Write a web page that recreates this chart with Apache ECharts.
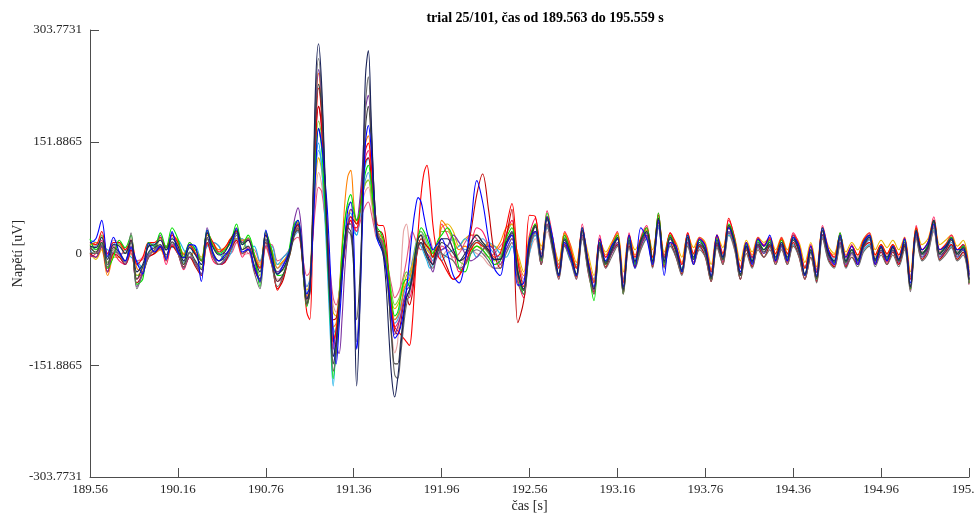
<!DOCTYPE html>
<html>
<head>
<meta charset="utf-8">
<script src="https://cdn.jsdelivr.net/npm/echarts@6/dist/echarts.min.js"></script>
<style>
  html, body { margin: 0; padding: 0; background: #fff; }
  #chart { width: 977px; height: 520px; }
</style>
</head>
<body>
<div id="chart"></div>
<script>
// Tick labels
const xTickLabels = ['189.56', '190.16', '190.76', '191.36', '191.96', '192.56', '193.16', '193.76', '194.36', '194.96', '195.'];
const yTickLabels = ['-303.7731', '-151.8865', '0', '151.8865', '303.7731'];

// Sampling grid (s): coarse, fine around the response, coarse again
const gridBreaks = [189.563, 190.923, 191.963, 195.563];
const gridSteps = [0.04, 0.02, 0.04];

// Trial traces (uV) on the sampling grid
const trLightBlue = [
  0,10,15,-5,15,0,0,5,-15,-20,0,10,8,5,12,5,-12,10,-2,-15,15,10,0,-8,5,20,15,5,-2,-18,15,5,-20,-12,
  5,18,25,30,15,-22,-45,-35,30,110,140,125,80,20,-45,-100,-110,-70,-25,10,40,45,30,25,45,80,100,110,85,45,20,15,10,-8,-40,-75,-95,-90,-75,-55,-40,-30,-10,10,25,30,20,10,0,-10,0,5,
  5,10,20,15,5,10,15,20,10,0,-5,5,20,-15,
  -40,15,30,0,38,12,-18,20,2,-18,28,-10,-38,15,-5,8,20,-38,
  15,-8,15,25,-8,38,-8,20,5,-15,18,-5,12,5,-25,15,-5,30,12,-20,10,-8,12,5,12,-5,12,-5,18,5,
  -20,5,-25,25,2,-8,18,-8,5,-8,10,18,-8,8,-5,8,-8,12,-35,25,2,8,35,2,8,15,2,8,-28
];
const trMagenta = [
  5,15,10,-2,10,-5,5,0,-10,-8,10,15,5,10,10,0,-5,15,5,-8,12,15,10,0,0,15,20,0,5,-12,10,12,-10,-5,
  5,15,20,22,10,-15,-30,-25,20,65,90,85,55,15,-25,-60,-70,-55,-20,10,35,45,40,30,40,55,65,70,55,35,20,20,15,0,-25,-45,-60,-55,-45,-30,-10,15,30,20,10,5,15,25,20,5,-5,0,
  10,5,-5,0,15,25,20,5,-5,0,10,20,25,-10,
  -35,10,25,0,35,10,-20,15,2,-20,22,-10,-35,10,-5,5,15,-35,
  12,-5,12,22,-5,35,-5,15,5,-15,15,-2,12,5,-22,12,-2,28,12,-18,8,-5,12,5,12,-2,12,-2,15,5,
  -18,5,-22,22,2,-5,15,-5,5,-5,10,15,-5,8,-2,8,-5,12,-30,22,2,8,30,2,8,12,2,8,-25
];
const trPink = [
  15,10,25,0,18,15,5,20,-10,-5,10,12,20,5,22,15,0,10,0,-10,20,0,-15,-12,0,15,-2,0,-20,-35,8,-15,-35,-30,
  -2,15,28,30,15,-25,-45,-40,20,80,110,95,60,15,-30,-70,-80,-55,-15,10,35,45,40,30,45,70,85,90,70,40,20,15,5,-20,-60,-110,-135,-120,-40,30,40,10,-20,-10,5,15,10,0,-5,-10,0,5,
  -5,5,-10,-20,-5,5,0,-5,-15,-20,-15,0,15,-30,
  -50,0,20,-15,30,5,-30,10,-8,-30,20,-20,-50,5,-15,0,12,-45,
  8,-15,5,20,-15,35,-15,10,0,-25,10,-12,5,0,-35,8,-12,25,5,-30,0,-18,5,-5,5,-12,5,-12,10,-2,
  -30,-2,-35,20,-5,-18,10,-18,-2,-15,5,12,-15,2,-12,2,-15,8,-45,20,-8,2,30,-8,0,10,-8,0,-38
];
const trGold = [
  0,-8,5,-20,-5,-5,-15,0,-30,-20,0,5,20,10,25,15,0,10,5,-5,25,15,5,8,20,30,18,20,0,-15,25,5,-15,-10,
  2,18,30,35,18,-28,-50,-40,30,100,130,115,70,15,-40,-80,-85,-55,-15,20,50,60,50,40,55,80,95,100,80,45,25,20,10,-5,-35,-65,-75,-70,-60,-45,-30,-25,-15,5,20,25,15,5,0,-5,10,15,
  35,40,30,10,20,25,25,15,10,10,5,15,20,0,
  -25,25,30,10,35,15,-10,28,12,-12,30,0,-30,18,2,15,28,-25,
  25,5,20,30,5,42,2,25,15,-5,25,8,22,15,-15,25,8,38,22,-10,18,2,22,15,22,5,22,5,25,15,
  -12,15,-18,35,10,0,25,2,15,5,20,28,5,18,8,18,5,22,-25,35,12,20,45,12,18,25,10,18,-20
];
const trLime = [
  12,0,25,-12,0,12,0,18,-30,-28,12,2,22,5,20,12,-15,12,0,-20,30,2,-10,2,15,30,5,22,-5,-30,28,0,-25,-22,
  0,25,40,42,22,-35,-65,-50,45,140,180,160,90,10,-70,-120,-100,-55,5,45,65,70,55,45,55,80,95,100,80,50,30,25,15,0,-25,-55,-70,-65,-55,-35,-25,-30,-20,5,25,30,25,15,5,-5,8,15,
  30,30,15,-10,-15,5,15,10,0,-10,-5,25,40,-20,
  -50,18,38,-8,50,15,-28,22,2,-28,32,-15,-55,15,-12,8,22,-50,
  20,-12,18,32,-10,50,-12,22,5,-22,22,-5,18,5,-32,20,-5,38,18,-28,12,-10,18,5,18,-5,18,-5,22,5,
  -28,5,-32,32,0,-10,25,-10,5,-8,14,22,-8,10,-5,10,-8,18,-45,30,0,12,42,0,10,20,0,10,-38
];
const trCyan = [
  18,15,10,5,0,15,5,-5,-10,-20,0,15,5,10,8,18,5,-5,10,-8,10,15,10,-10,0,20,20,5,10,-10,10,10,-15,-5,
  4,22,30,35,15,-30,-55,-40,35,120,150,120,60,-20,-110,-180,-120,-60,-10,20,50,55,35,25,50,85,120,130,100,50,20,15,10,-10,-45,-80,-90,-85,-70,-55,-45,-40,-25,0,15,10,0,-10,-20,-15,0,5,
  -10,0,5,10,20,10,-5,5,15,10,0,-5,10,-30,
  -55,0,25,-15,35,15,-15,10,-10,-15,20,-15,-35,10,-12,2,12,-35,
  10,-12,8,20,-15,35,-12,12,-2,-20,12,-12,8,0,-25,10,-10,25,10,-18,5,-15,8,0,8,-10,8,-10,12,0,
  -18,0,-22,22,-5,-15,12,-15,0,-12,5,12,-12,2,-10,2,-12,8,-32,22,-5,5,32,-5,2,10,-5,2,-25
];
const trCrimson = [
  -5,0,18,-25,0,-10,-15,5,-35,-25,-5,0,10,-15,12,0,-22,-5,-15,-28,15,-10,-15,-12,5,18,-5,8,-22,-35,10,-15,-38,-32,
  0,18,32,38,18,-32,-62,-48,45,160,200,170,95,15,-60,-130,-105,-65,-25,10,40,50,35,30,55,95,130,140,105,55,25,20,15,-5,-45,-85,-100,-95,-85,-65,-55,-60,-45,-15,10,15,5,0,-5,-15,0,8,
  40,25,5,-25,-15,10,35,30,10,-15,-10,25,45,-35,
  -60,25,48,-15,58,20,-35,30,10,-35,40,-25,-55,25,-20,12,30,-55,
  28,-18,22,38,-18,55,-18,28,12,-28,28,-12,22,12,-38,25,-12,45,22,-35,15,-18,22,12,22,-12,22,-12,28,12,
  -35,12,-38,38,5,-18,28,-18,12,-15,18,28,-15,12,-12,12,-15,22,-50,38,5,15,50,5,12,25,5,12,-42
];
const trOrange = [
  12,15,8,-30,0,15,0,18,-20,-25,15,0,5,-10,25,18,-5,-5,5,-10,28,12,5,5,20,20,18,20,0,-20,28,5,-20,-10,
  -4,18,36,42,20,-30,-58,-40,60,200,245,200,110,25,-40,-100,-95,-60,10,70,105,113,70,40,60,110,150,160,120,60,30,25,20,0,-35,-70,-90,-85,-75,-50,-40,-35,-20,0,20,25,15,10,5,-5,10,15,
  45,35,20,5,10,5,10,5,15,5,15,35,40,-5,
  -30,20,40,5,50,20,-15,28,8,-18,32,-8,-38,18,-2,12,28,-38,
  22,-2,20,32,-5,48,-2,25,10,-12,25,0,20,10,-22,22,0,38,20,-18,15,-2,20,10,20,0,20,0,25,10,
  -20,10,-22,35,5,-2,25,-2,10,-2,18,25,-2,12,0,12,-2,20,-32,35,5,15,45,5,12,22,5,12,-25
];
const trDarkRed = [
  0,-5,10,-25,0,-5,-15,5,-40,-28,-5,0,8,-5,10,0,-18,-5,-18,-30,15,-5,-15,-12,5,18,0,5,-20,-38,15,-12,-48,-35,
  2,22,34,38,16,-35,-70,-55,30,150,200,175,110,35,-40,-90,-88,-65,-25,10,40,50,45,40,55,90,125,130,100,55,30,30,25,5,-35,-80,-105,-110,-95,-70,-60,-70,-55,-20,10,20,15,10,5,-5,5,10,
  0,-20,-35,-30,-10,30,80,108,60,0,-20,20,60,-94,
  -65,5,38,-15,40,5,-32,12,-8,-32,25,-22,-52,8,-18,0,12,-52,
  10,-18,10,25,-18,42,-18,15,-5,-28,15,-15,10,-5,-38,12,-15,35,10,-35,5,-18,10,-5,10,-15,10,-15,15,-5,
  -35,-5,-38,25,-8,-18,15,-18,-5,-15,8,15,-15,2,-15,2,-15,10,-48,25,-8,5,38,-8,2,12,-8,2,-40
];
const trRed = [
  15,12,30,0,15,15,5,18,-15,-5,15,15,22,8,25,15,-2,12,0,-10,28,15,2,8,20,30,15,18,-5,-20,25,0,-50,-30,
  -2,18,30,34,10,-40,-80,-90,20,160,225,190,110,25,-60,-120,-105,-70,-30,5,35,45,35,35,55,100,140,150,120,70,40,38,38,20,-30,-80,-100,-105,-110,-115,-120,-125,-95,-30,30,80,110,120,90,40,10,-5,
  -10,-25,-35,-30,-15,5,15,10,5,-5,0,35,68,-10,
  -45,52,50,-5,50,15,-20,25,5,-20,35,-10,-40,20,-5,10,25,-40,
  25,-5,20,35,-5,52,-5,28,10,-15,28,0,20,10,-25,25,0,48,20,-20,15,-5,20,10,20,0,20,0,25,10,
  -20,10,-25,35,5,-5,25,-5,10,-2,18,25,-2,12,0,12,-2,20,-35,35,5,15,45,5,12,22,5,12,-30
];
const trPurple = [
  -2,-5,10,-25,2,0,-15,10,-45,-25,-2,5,25,-10,28,5,-20,-5,-12,-28,35,0,-15,-10,10,35,15,20,-5,-40,30,-10,-25,-15,
  4,28,50,62,40,-20,-60,-55,40,190,250,215,120,20,-50,-110,-125,-136,-90,-20,30,60,55,45,70,120,195,215,160,80,30,20,10,-15,-50,-90,-110,-100,-85,-65,-50,-45,-30,-10,10,15,5,-5,-15,-25,-10,0,
  5,10,25,15,0,-10,-5,5,10,5,-15,5,20,-25,
  -50,10,30,-10,40,5,-30,15,-5,-30,25,-20,-50,10,-15,0,15,-50,
  22,-15,12,24,-14,42,-6,24,2,-24,16,-8,18,2,-34,14,-8,30,18,-30,14,-6,10,0,18,-10,10,-10,25,2,
  -30,2,-26,26,-5,-15,15,-15,0,-12,8,24,-12,4,-10,4,-12,20,-45,26,-5,6,45,-5,4,22,-5,12,-28
];
const trGreen = [
  20,5,15,-20,-5,18,8,25,-42,-35,15,10,28,8,35,20,-5,15,5,-10,32,10,0,5,15,40,12,25,0,-45,30,5,-30,-28,
  6,30,42,45,20,-40,-72,-50,40,130,170,145,80,0,-90,-170,-130,-70,0,45,70,80,60,45,55,85,110,120,95,55,35,30,20,0,-30,-65,-85,-80,-60,-40,-35,-45,-30,0,20,35,30,20,10,0,10,20,
  25,35,20,-20,-25,0,10,5,-5,-15,-10,20,35,-25,
  -55,20,40,-10,55,12,-30,25,0,-30,35,-18,-64,15,-15,8,25,-55,
  22,-15,18,35,-12,55,-15,25,5,-25,25,-8,18,5,-35,20,-8,40,18,-30,12,-12,18,5,18,-8,18,-8,22,5,
  -30,5,-35,35,0,-12,28,-12,5,-10,15,25,-10,10,-8,10,-10,18,-48,32,0,12,45,0,10,22,0,10,-40
];
const trGray = [
  2,0,12,-18,5,-2,-12,28,-48,-28,-5,5,10,-5,15,0,-20,0,-15,-28,20,-5,-15,-8,5,25,0,5,-25,-48,18,-15,-45,-30,
  -2,15,30,35,15,-35,-70,-50,50,210,265,220,120,10,-80,-160,-140,-80,-30,10,30,25,-20,-120,-60,60,200,240,170,80,30,20,10,-15,-60,-120,-165,-170,-140,-100,-70,-55,-35,-10,10,15,5,-5,-15,-20,-5,5,
  0,-5,-10,-20,-15,0,5,0,-10,-20,-20,0,15,-40,
  -55,8,28,-15,38,0,-35,10,-10,-35,20,-25,-55,5,-20,-5,10,-55,
  8,-20,5,20,-20,38,-20,10,-5,-30,10,-15,5,-5,-38,8,-15,28,5,-35,0,-20,5,-5,5,-15,5,-15,10,-5,
  -35,-5,-40,20,-10,-20,10,-20,-5,-18,2,10,-18,-2,-15,-2,-18,5,-52,20,-10,0,35,-10,-2,8,-10,-2,-42
];
const trDarkGray = [
  8,2,15,-15,8,2,-10,15,-35,-18,2,8,12,-2,16,5,-15,2,-10,-22,22,0,-10,-5,10,28,5,10,-15,-35,20,-10,-38,-28,
  -5,12,28,32,12,-35,-68,-52,45,180,230,200,110,10,-75,-150,-130,-75,-25,10,35,30,-10,-90,-40,60,170,200,150,70,25,15,5,-20,-60,-115,-150,-150,-120,-85,-60,-50,-35,-10,10,15,5,-5,-10,-15,-5,5,
  15,10,0,-10,-5,10,18,12,2,-8,-8,12,28,-28,
  -50,12,36,-8,46,8,-30,18,-2,-30,30,-18,-48,12,-14,2,20,-50,
  15,-12,15,28,-12,46,-12,20,2,-24,20,-8,12,2,-34,15,-8,36,12,-30,8,-12,12,2,12,-8,12,-8,18,2,
  -30,2,-34,30,-2,-12,20,-12,2,-10,10,20,-10,5,-8,5,-10,12,-46,30,-2,8,44,-2,5,18,-2,5,-36
];
const trBlue = [
  14,20,45,-4,22,2,-10,8,-12,-28,14,2,10,-8,30,2,-6,12,10,-38,32,0,-10,-2,8,34,2,6,-18,-38,32,-10,-28,-16,
  2,22,38,45,25,-25,-55,-45,20,110,170,150,110,60,-20,-110,-150,-100,-40,20,60,70,20,-130,-80,40,150,174,140,70,20,10,0,-20,-50,-90,-115,-110,-100,-80,-50,-10,30,60,76,70,50,30,15,5,10,15,
  20,0,-30,-40,-10,40,99,70,20,-20,-30,10,25,-43,
  -40,20,30,-5,50,20,-30,15,-5,-30,35,-10,-45,20,-10,10,20,-45,
  25,-20,35,20,-15,45,-30,15,10,-25,25,-15,20,10,-30,25,-5,35,15,-25,15,-15,20,10,25,-10,15,-10,22,10,
  -30,10,-30,35,5,-15,25,-5,10,-15,15,25,-15,10,-10,10,-8,20,-40,30,5,15,40,5,10,20,5,5,-30
];
const trNavy = [
  10,8,22,-8,12,10,0,18,-25,-15,10,12,18,5,20,10,-10,8,-2,-15,28,8,-2,2,18,32,12,18,-5,-25,25,-2,-28,-20,
  0,20,34,40,20,-30,-62,-50,60,230,285,235,130,20,-70,-140,-120,-70,-20,20,40,40,-20,-180,-90,80,240,276,180,80,25,15,0,-40,-110,-170,-195,-170,-130,-90,-60,-50,-30,0,20,25,10,0,-10,-15,0,10,
  20,20,5,-10,0,15,25,15,5,-8,-8,15,30,-25,
  -48,15,38,-5,48,10,-28,20,0,-28,32,-15,-48,15,-12,5,22,-48,
  18,-10,18,30,-10,48,-10,22,5,-22,22,-5,15,5,-32,18,-5,38,15,-28,10,-10,15,5,15,-5,15,-5,20,5,
  -28,5,-32,32,0,-10,22,-10,5,-8,12,22,-8,8,-5,8,-8,15,-45,32,0,10,45,0,8,20,0,8,-35
];

// Drawing order: first listed is drawn at the bottom
const traces = [
  { values: trPink,      color: '#e6a3a3' },
  { values: trLightBlue, color: '#4d9de0' },
  { values: trGold,      color: '#e8b400' },
  { values: trMagenta,   color: '#e75480' },
  { values: trCyan,      color: '#1fb4e8' },
  { values: trLime,      color: '#7ccd3c' },
  { values: trCrimson,   color: '#ff1a5e' },
  { values: trOrange,    color: '#ff8000' },
  { values: trDarkRed,   color: '#c00000' },
  { values: trRed,       color: '#ff0000' },
  { values: trPurple,    color: '#7a30a0' },
  { values: trGreen,     color: '#00e000' },
  { values: trGray,      color: '#6b6b6b' },
  { values: trDarkGray,  color: '#404040' },
  { values: trBlue,      color: '#0000ff' },
  { values: trNavy,      color: '#1a2358' }
];

function timeGrid() {
  const t = [];
  for (let s = 0; s < gridSteps.length; s++) {
    const n = Math.round((gridBreaks[s + 1] - gridBreaks[s]) / gridSteps[s]);
    for (let i = 0; i < n; i++) t.push(+(gridBreaks[s] + i * gridSteps[s]).toFixed(3));
  }
  t.push(gridBreaks[gridBreaks.length - 1]);
  return t;
}
const time = timeGrid();

const X_MIN = 189.563, X_STEP = 0.6;
const Y_MAX = 303.7731, Y_STEP = 151.88655;
const serif = '"Liberation Serif", "Times New Roman", serif';
const axisColor = '#4d4d4d';
const lastX = xTickLabels.length - 1;

const chart = echarts.init(document.getElementById('chart'), null, { renderer: 'canvas' });
chart.setOption({
  animation: false,
  backgroundColor: '#ffffff',
  title: {
    text: 'trial 25/101, čas od 189.563 do 195.559 s',
    left: 540,
    top: 6,
    textAlign: 'center',
    textStyle: { fontFamily: serif, fontWeight: 'bold', fontSize: 14, color: '#000' }
  },
  grid: { left: 90, right: 8, top: 30, bottom: 43, containLabel: false, outerBoundsMode: 'none' },
  xAxis: {
    type: 'value',
    min: X_MIN,
    max: X_MIN + lastX * X_STEP,
    interval: X_STEP,
    name: 'čas [s]',
    nameLocation: 'middle',
    nameGap: 22,
    nameMoveOverlap: false,
    nameTextStyle: { fontFamily: serif, fontSize: 14, color: '#262626' },
    axisLine: { show: true, onZero: false, lineStyle: { color: axisColor, width: 1 } },
    axisTick: { show: true, inside: true, length: 9, lineStyle: { color: axisColor } },
    axisLabel: {
      fontFamily: serif, fontSize: 13, color: '#262626', margin: 6,
      formatter: v => {
        const i = Math.round((v - X_MIN) / X_STEP);
        const s = xTickLabels[i] || '';
        return i === lastX ? '{edge|' + s + '}' : s;
      },
      rich: {
        edge: { fontFamily: serif, fontSize: 13, color: '#262626', padding: [0, 12, 0, 0] }
      }
    },
    splitLine: { show: false }
  },
  yAxis: {
    type: 'value',
    min: -Y_MAX,
    max: Y_MAX,
    interval: Y_STEP,
    name: 'Napětí [uV]',
    nameLocation: 'middle',
    nameGap: 65,
    nameRotate: 90,
    nameMoveOverlap: false,
    nameTextStyle: { fontFamily: serif, fontSize: 14, color: '#262626' },
    axisLine: { show: true, onZero: false, lineStyle: { color: axisColor, width: 1 } },
    axisTick: { show: true, inside: true, length: 9, lineStyle: { color: axisColor } },
    axisLabel: {
      fontFamily: serif, fontSize: 13, color: '#262626', margin: 8,
      formatter: v => yTickLabels[Math.round((v + Y_MAX) / Y_STEP)] || ''
    },
    splitLine: { show: false }
  },
  series: traces.map(tr => ({
    type: 'line',
    data: time.map((t, i) => [t, tr.values[i]]),
    showSymbol: false,
    symbol: 'none',
    smooth: 0.35,
    clip: true,
    lineStyle: { color: tr.color, width: 1.1 },
    emphasis: { disabled: true }
  }))
});
</script>
</body>
</html>
